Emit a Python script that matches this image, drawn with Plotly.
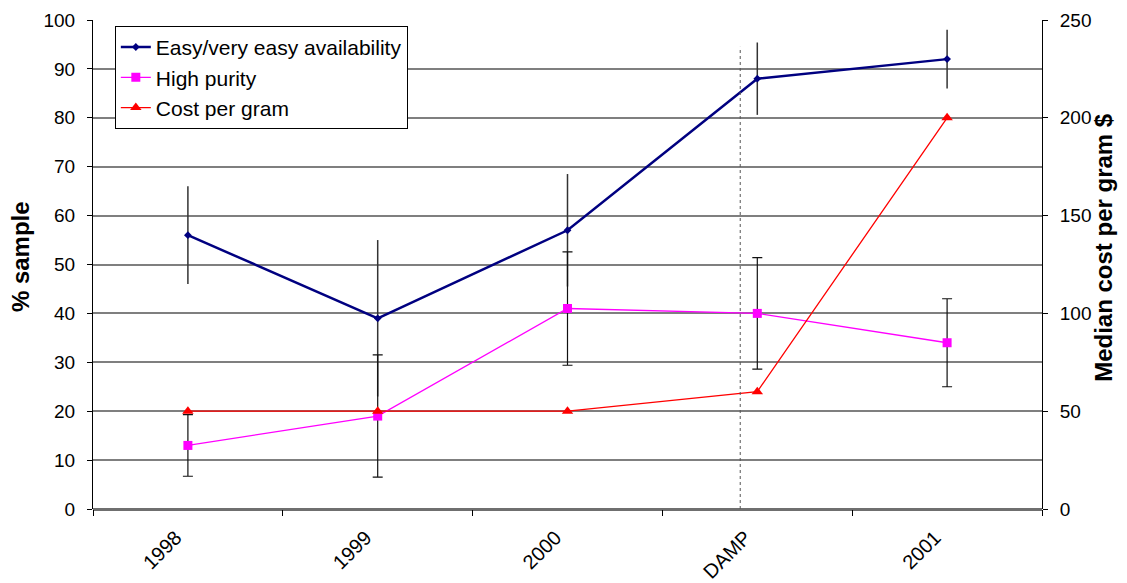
import plotly.graph_objects as go

categories = ["1998", "1999", "2000", "DAMP", "2001"]
easy = [56, 39, 57, 88, 92]
easy_err = [10, 16, 11.5, 7.4, 6]
purity = [13, 19, 41, 40, 34]
purity_err = [6.3, 12.5, 11.6, 11.4, 9]
cost = [50, 50, 50, 60, 200]
damp_line_pos = 2.91
damp_line_top = 94.5

FONT = "Liberation Sans, Arial, sans-serif"

fig = go.Figure()
fig.add_trace(go.Scatter(
    x=categories, y=easy, name="Easy/very easy availability", mode="lines+markers",
    line=dict(color="#000080", width=2.5),
    marker=dict(symbol="diamond", size=6, color="#000080"),
    error_y=dict(type="data", array=easy_err, visible=True, color="#333333", thickness=1.5, width=0),
))
fig.add_trace(go.Scatter(
    x=categories, y=purity, name="High purity", mode="lines+markers",
    line=dict(color="#FF00FF", width=1.3),
    marker=dict(symbol="square", size=9, color="#FF00FF"),
    error_y=dict(type="data", array=purity_err, visible=True, color="#111111", thickness=1.2, width=5),
))
fig.add_trace(go.Scatter(
    x=categories, y=cost, name="Cost per gram", mode="lines+markers", yaxis="y2",
    line=dict(color="#FF0000", width=1.3),
    marker=dict(symbol="triangle-up", size=10, color="#FF0000"),
))

fig.add_shape(type="line", xref="x", yref="y", x0=damp_line_pos, x1=damp_line_pos,
              y0=0, y1=damp_line_top, line=dict(color="#555555", width=1, dash="dot"))

fig.add_annotation(text="<b>% sample</b>", xref="paper", yref="paper", x=-0.077, y=0.517,
                   textangle=-90, showarrow=False, font=dict(size=24), xanchor="center", yanchor="middle")
fig.add_annotation(text="<b>Median cost per gram $</b>", xref="paper", yref="paper", x=1.0653, y=0.536,
                   textangle=-90, showarrow=False, font=dict(size=24), xanchor="center", yanchor="middle")

fig.update_layout(
    width=1119, height=575,
    margin=dict(l=85, r=85, t=12, b=74),
    paper_bgcolor="white", plot_bgcolor="white",
    font=dict(family=FONT, size=19, color="black"),
    showlegend=True,
    legend=dict(x=0.023, y=0.988, xanchor="left", yanchor="top",
                bgcolor="white", bordercolor="black", borderwidth=1,
                font=dict(size=21), tracegroupgap=0, itemwidth=30),
    xaxis=dict(type="category", range=[-0.5, 4.5], tickson="boundaries",
               ticks="outside", ticklen=6, tickcolor="black", tickangle=-45,
               showgrid=False, showline=False, zeroline=False, automargin=False,
               ticklabelstandoff=12, ticklabelshift=-12,
               tickfont=dict(size=20)),
    yaxis=dict(range=[0, 100], dtick=10, ticks="outside", ticklen=5, tickcolor="black",
               showline=True, linecolor="black", linewidth=1, automargin=False,
               showgrid=True, gridcolor="#7f7f7f", gridwidth=1.5,
               zeroline=True, zerolinecolor="#6f6f6f", zerolinewidth=3,
               ticklabelstandoff=8,
               tickfont=dict(size=19)),
    yaxis2=dict(range=[0, 250], dtick=50, overlaying="y", side="right",
                ticks="outside", ticklen=5, tickcolor="black",
                showline=True, linecolor="black", linewidth=1, automargin=False,
                showgrid=False, zeroline=False, ticklabelstandoff=8,
                tickfont=dict(size=19)),
)

fig.write_html("out.html")
